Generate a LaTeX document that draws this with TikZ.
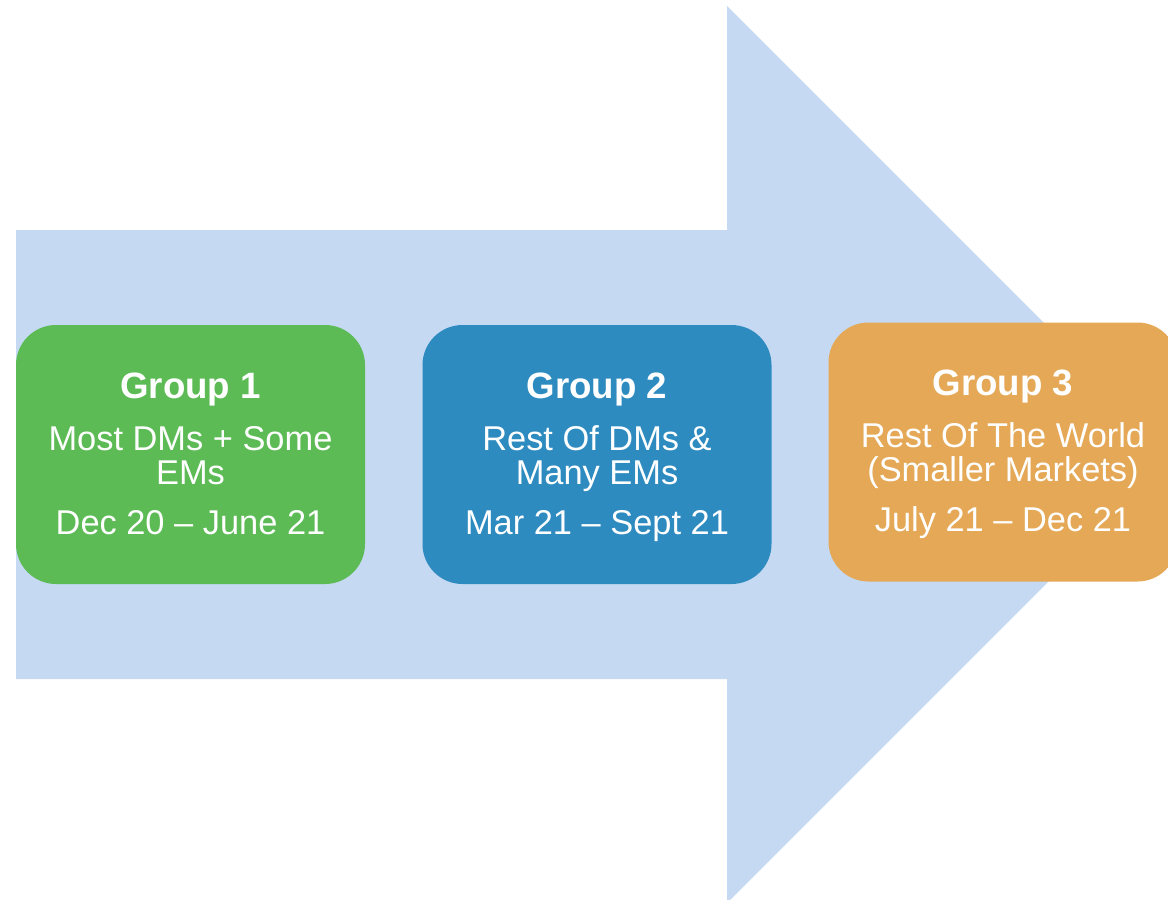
\documentclass[tikz,border=0pt]{standalone}
\usepackage{fontspec}
\setmainfont{Liberation Sans}
\usepackage{tikz}
\usetikzlibrary{positioning, calc}

\definecolor{arrowblue}{RGB}{197,217,242}
\definecolor{grpgreen}{RGB}{92,187,85}
\definecolor{grpblue}{RGB}{46,139,192}
\definecolor{grporange}{RGB}{228,168,86}

\tikzset{
    groupbox/.style={draw=none, rounded corners=30pt, inner sep=0pt,
        minimum width=261.75pt, minimum height=194.25pt},
    headtext/.style={text=white, anchor=base, inner sep=0pt,
        font=\fontsize{27.5}{27.5}\selectfont\bfseries},
    bodytext/.style={text=white, anchor=base, inner sep=0pt,
        font=\fontsize{25.8}{25.8}\selectfont}
}

\begin{document}
\begin{tikzpicture}[x=0.75pt, y=-0.75pt]
    \useasboundingbox (0,0) rectangle (1168,900);
    \clip (0,0) rectangle (1168,900);

    % Big arrow behind the groups
    \fill[arrowblue] (16,230) -- (727,230) -- (727,6) -- (1175.5,454.5)
        -- (727,903) -- (727,679) -- (16,679) -- cycle;

    % Group boxes
    \node[groupbox, fill=grpgreen] (grp1) at (190.5,454.5) {};
    \node[groupbox, fill=grpblue] (grp2) at (597,454.5) {};
    \node[groupbox, fill=grporange] (grp3) at (1003,452) {};

    % Group 1
    \node[headtext] (head1) at ($(grp1.center)+(0,-56.5)$) {Group 1};
    \node[bodytext] (desc1a) at ($(grp1.center)+(0,-4.5)$) {Most DMs + Some};
    \node[bodytext] (desc1b) at ($(grp1.center)+(0,29.5)$) {EMs};
    \node[bodytext] (date1) at ($(grp1.center)+(0,79.5)$) {Dec 20 – June 21};

    % Group 2
    \node[headtext] (head2) at ($(grp2.center)+(0,-56.5)$) {Group 2};
    \node[bodytext] (desc2a) at ($(grp2.center)+(0,-4.5)$) {Rest Of DMs \&};
    \node[bodytext] (desc2b) at ($(grp2.center)+(0,29.5)$) {Many EMs};
    \node[bodytext] (date2) at ($(grp2.center)+(0,79.5)$) {Mar 21 – Sept 21};

    % Group 3
    \node[headtext] (head3) at ($(grp3.center)+(0,-56.5)$) {Group 3};
    \node[bodytext] (desc3a) at ($(grp3.center)+(0,-4.5)$) {Rest Of The World};
    \node[bodytext] (desc3b) at ($(grp3.center)+(0,29.5)$) {(Smaller Markets)};
    \node[bodytext] (date3) at ($(grp3.center)+(0,79.5)$) {July 21 – Dec 21};

\end{tikzpicture}
\end{document}
